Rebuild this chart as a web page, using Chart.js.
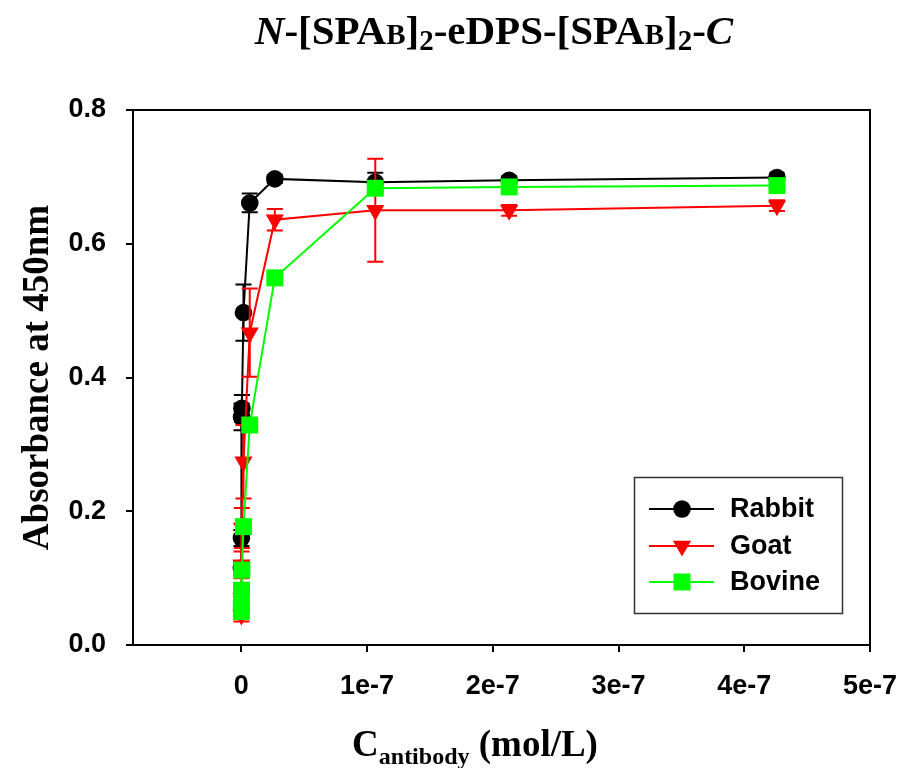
<!DOCTYPE html>
<html>
<head>
<meta charset="utf-8">
<script src="https://cdn.jsdelivr.net/npm/chart.js@4.4.1/dist/chart.umd.min.js"></script>
<style>
  html, body { margin: 0; padding: 0; background: #fff; }
  #wrap { width: 899px; height: 768px; position: relative; }
</style>
</head>
<body>
<div id="wrap"><canvas id="chart" width="899" height="768"></canvas></div>
<script>
// antibody concentration (mol/L), same dilution series for all three
const concentrations = [4.26e-7, 2.13e-7, 1.065e-7, 2.66e-8, 6.66e-9, 1.66e-9, 4.16e-10, 1.04e-10, 2.6e-11, 6.5e-12];

const rabbit = [0.699, 0.695, 0.692, 0.697, 0.661, 0.497, 0.354, 0.341, 0.160, 0.115];
const rabbitErr = [0.006, 0.006, 0.014, 0.006, 0.014, 0.042, 0.020, 0.020, 0.012, 0.010];

const goat = [0.657, 0.650, 0.650, 0.636, 0.467, 0.274, 0.175, 0.120, 0.070, 0.045];
const goatErr = [0.008, 0.008, 0.077, 0.016, 0.066, 0.055, 0.030, 0.020, 0.012, 0.010];

const bovine = [0.687, 0.685, 0.683, 0.549, 0.329, 0.177, 0.112, 0.082, 0.062, 0.050];
const bovineErr = [0.004, 0.004, 0.004, 0.004, 0.004, 0.004, 0.004, 0.004, 0.004, 0.004];

const xTicks = [0, 1e-7, 2e-7, 3e-7, 4e-7, 5e-7];
const xTickLabels = ['0', '1e-7', '2e-7', '3e-7', '4e-7', '5e-7'];
const yTicks = [0, 0.2, 0.4, 0.6, 0.8];
const yTickLabels = ['0.0', '0.2', '0.4', '0.6', '0.8'];

const SERIF = '"Liberation Serif", "Times New Roman", serif';
const SANS = '"Liberation Sans", Arial, sans-serif';

function points(ys) {
    return concentrations.map(function(c, i) { return { x: c, y: ys[i] }; });
}

// draws a run of text pieces with their own fonts and baseline shifts
function drawRich(ctx, parts, cx, y) {
    let total = 0;
    parts.forEach(function(p) { ctx.font = p.f; p.w = ctx.measureText(p.t).width; total += p.w; });
    let x = cx - total / 2;
    ctx.textBaseline = 'alphabetic';
    ctx.textAlign = 'left';
    parts.forEach(function(p) {
        ctx.font = p.f;
        ctx.fillText(p.t, x, y + (p.dy || 0));
        x += p.w;
    });
}

const errorBars = {
    id: 'errorBars',
    afterDatasetDraw: function(chart, args) {
        const ds = chart.data.datasets[args.index];
        if (!ds.errors) return;
        const ctx = chart.ctx;
        const yScale = chart.scales.y;
        ctx.save();
        ctx.strokeStyle = ds.borderColor;
        ctx.lineWidth = 2;
        args.meta.data.forEach(function(pt, i) {
            const v = ds.data[i].y, e = ds.errors[i];
            const top = yScale.getPixelForValue(v + e);
            const bot = yScale.getPixelForValue(v - e);
            ctx.beginPath();
            ctx.moveTo(pt.x, top); ctx.lineTo(pt.x, bot);
            ctx.moveTo(pt.x - 8, top); ctx.lineTo(pt.x + 8, top);
            ctx.moveTo(pt.x - 8, bot); ctx.lineTo(pt.x + 8, bot);
            ctx.stroke();
        });
        ctx.restore();
    }
};

const decorations = {
    id: 'decorations',
    afterDraw: function(chart) {
        const ctx = chart.ctx;
        const a = chart.chartArea;
        ctx.save();
        ctx.fillStyle = '#000';

        // frame
        ctx.strokeStyle = '#000';
        ctx.lineWidth = 2;
        ctx.strokeRect(a.left, a.top, a.right - a.left, a.bottom - a.top);

        // title
        const big = 'bold 41px ' + SERIF, sub = 'bold 29px ' + SERIF, ital = 'italic bold 41px ' + SERIF;
        drawRich(ctx, [
            { t: 'N', f: ital }, { t: '-[SPA', f: big }, { t: 'B', f: sub }, { t: ']', f: big },
            { t: '2', f: sub, dy: 6 }, { t: '-eDPS-[SPA', f: big }, { t: 'B', f: sub }, { t: ']', f: big },
            { t: '2', f: sub, dy: 6 }, { t: '-', f: big }, { t: 'C', f: ital }
        ], 494, 44);

        // x axis title
        drawRich(ctx, [
            { t: 'C', f: 'bold 37px ' + SERIF },
            { t: 'antibody', f: 'bold 24px ' + SERIF, dy: 8 },
            { t: ' (mol/L)', f: 'bold 37px ' + SERIF }
        ], 475, 756);

        // y axis title
        ctx.save();
        ctx.translate(48, (a.top + a.bottom) / 2);
        ctx.rotate(-Math.PI / 2);
        drawRich(ctx, [{ t: 'Absorbance at 450nm', f: 'bold 37px ' + SERIF }], 0, 0);
        ctx.restore();

        // legend
        ctx.strokeStyle = '#333';
        ctx.lineWidth = 1.5;
        ctx.strokeRect(634.5, 477.5, 208, 136);
        const rows = [509, 546, 582];
        chart.data.datasets.forEach(function(ds, i) {
            const y = rows[i];
            ctx.strokeStyle = ds.borderColor;
            ctx.lineWidth = 2;
            ctx.beginPath();
            ctx.moveTo(649, y); ctx.lineTo(714, y);
            ctx.stroke();
            ctx.fillStyle = ds.backgroundColor;
            Chart.helpers.drawPoint(ctx, {
                pointStyle: ds.pointStyle, radius: ds.pointRadius,
                rotation: ds.pointRotation || 0, borderWidth: 0
            }, 682, y);
            ctx.fillStyle = '#000';
            ctx.font = 'bold 27px ' + SANS;
            ctx.textBaseline = 'middle';
            ctx.textAlign = 'left';
            ctx.fillText(ds.label, 730, y + 1);
        });
        ctx.restore();
    }
};

new Chart(document.getElementById('chart'), {
    type: 'scatter',
    data: {
        datasets: [
            {
                label: 'Rabbit', data: points(rabbit), errors: rabbitErr,
                borderColor: '#000000', backgroundColor: '#000000',
                pointStyle: 'circle', pointRadius: 8.8, pointBorderWidth: 0,
                showLine: true, borderWidth: 2, order: 3
            },
            {
                label: 'Goat', data: points(goat), errors: goatErr,
                borderColor: '#ff0000', backgroundColor: '#ff0000',
                pointStyle: 'triangle', pointRotation: 180, pointRadius: 10.5, pointBorderWidth: 0,
                showLine: true, borderWidth: 2, order: 2
            },
            {
                label: 'Bovine', data: points(bovine), errors: bovineErr,
                borderColor: '#00ff00', backgroundColor: '#00ff00',
                pointStyle: 'rect', pointRadius: 12, pointBorderWidth: 0,
                showLine: true, borderWidth: 2, order: 1
            }
        ]
    },
    options: {
        responsive: false,
        animation: false,
        layout: { padding: { left: 0, top: 110, right: 29, bottom: 0 } },
        plugins: { legend: { display: false }, tooltip: { enabled: false }, title: { display: false } },
        scales: {
            x: {
                type: 'linear', min: -8.62e-8, max: 5e-7,
                afterBuildTicks: function(s) { s.ticks = xTicks.map(function(v) { return { value: v }; }); },
                afterFit: function(s) { s.height = 123; s.paddingLeft = 0; s.paddingRight = 0; },
                grid: { drawOnChartArea: false, drawTicks: true, tickLength: 7, color: '#000', lineWidth: 2 },
                border: { display: true, color: '#000', width: 2 },
                ticks: {
                    color: '#000', padding: 18, maxRotation: 0,
                    font: { family: SANS, size: 27, weight: 'bold' },
                    callback: function(v) { const i = xTicks.indexOf(v); return i >= 0 ? xTickLabels[i] : ''; }
                }
            },
            y: {
                type: 'linear', min: 0, max: 0.8,
                afterBuildTicks: function(s) { s.ticks = yTicks.map(function(v) { return { value: v }; }); },
                afterFit: function(s) { s.width = 133; s.paddingTop = 0; s.paddingBottom = 0; },
                grid: { drawOnChartArea: false, drawTicks: true, tickLength: 7, color: '#000', lineWidth: 2 },
                border: { display: true, color: '#000', width: 2 },
                ticks: {
                    color: '#000', padding: 20,
                    font: { family: SANS, size: 27, weight: 'bold' },
                    callback: function(v) { const i = yTicks.indexOf(v); return i >= 0 ? yTickLabels[i] : ''; }
                }
            }
        }
    },
    plugins: [errorBars, decorations]
});
</script>
</body>
</html>
